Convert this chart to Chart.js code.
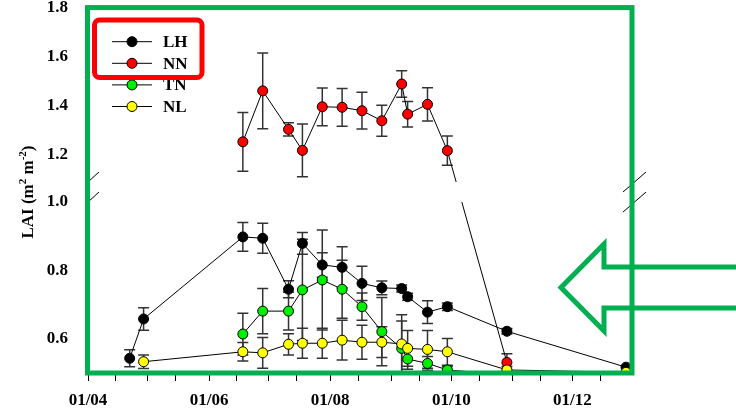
<!DOCTYPE html>
<html>
<head>
<meta charset="utf-8">
<script src="https://cdn.jsdelivr.net/npm/chart.js@4.4.0/dist/chart.umd.min.js"></script>
<style>
  html, body { margin: 0; padding: 0; background: #fff; }
</style>
</head>
<body>
<canvas id="laiChart" width="736" height="410"></canvas>
<script>
// Fechas de muestreo (DD/MM)
const fechas = ['22/04', '29/04', '18/06', '28/06', '11/07', '18/07', '28/07', '07/08',
                '17/08', '27/08', '06/09', '09/09', '19/09', '29/09', '29/10', '28/12'];

// LAI medio y error de cada tratamiento (null = sin dato)
const lh    = [0.543, 0.658, 0.898, 0.894, 0.745, 0.879, 0.816, 0.809, 0.762, 0.749, 0.747, 0.723, 0.678, 0.694, 0.622, 0.517];
const lhErr = [0.025, 0.033, 0.042, 0.044, 0.025, 0.032, 0.036, 0.060, 0.050, 0.020, 0.010, 0.010, 0.033, 0.011, 0.008, null];
const nn    = [null, null, 1.254, 1.462, 1.305, 1.219, 1.397, 1.395, 1.381, 1.340, 1.490, 1.367, 1.407, 1.218, 0.531, null];
const nnErr = [null, null, 0.120, 0.155, 0.027, 0.108, 0.077, 0.077, 0.075, 0.063, 0.054, 0.052, 0.068, 0.060, 0.025, null];
const tn    = [null, null, 0.614, 0.681, 0.681, 0.743, 0.772, 0.745, 0.694, 0.621, 0.572, 0.541, 0.528, 0.509, 0.495, 0.490];
const tnErr = [null, null, 0.061, 0.066, 0.055, 0.148, 0.146, 0.085, 0.040, 0.100, 0.080, 0.030, 0.020, 0.010, null, null];
const nl    = [null, 0.533, 0.562, 0.559, 0.584, 0.587, 0.587, 0.596, 0.590, 0.590, 0.585, 0.572, 0.569, 0.562, 0.509, 0.502];
const nlErr = [null, 0.020, 0.027, 0.045, 0.031, 0.044, 0.044, 0.058, 0.050, 0.045, 0.085, 0.052, 0.055, 0.039, 0.010, null];

const etiquetasY = [0.6, 0.8, 1.0, 1.2, 1.4, 1.6, 1.8];
const etiquetasX = ['01/04', '01/06', '01/08', '01/10', '01/12'];
const menoresX = ['15/04', '01/05', '15/05', '15/06', '01/07', '15/07', '15/08', '01/09',
                  '15/09', '15/10', '01/11', '15/11', '15/12'];

// Eje Y roto: tramo bajo 0.5-1.0, tramo alto 1.09-1.8 (comprimido)
const CORTE_BAJO = 1.0, CORTE_ALTO = 1.09, HUECO = 0.0586, FACTOR_ALTO = 0.7164;
function ejeY(v) {
  return v <= 1.05 ? v : CORTE_BAJO + HUECO + (v - CORTE_ALTO) * FACTOR_ALTO;
}

// Días desde el 1 de abril
function dias(f) {
  const [d, m] = f.split('/').map(Number);
  return (Date.UTC(2001, m - 1, d) - Date.UTC(2001, 3, 1)) / 86400000;
}

function serie(valores, errores) {
  const puntos = [];
  valores.forEach((v, i) => {
    if (v === null) return;
    puntos.push({ x: dias(fechas[i]), y: ejeY(v), v: v, e: errores[i] });
  });
  return puntos;
}

const fuente = 'Liberation Serif';

// Barras de error (detrás de los marcadores)
const barrasError = {
  id: 'barrasError',
  beforeDatasetsDraw(chart) {
    const ctx = chart.ctx, y = chart.scales.y, a = chart.chartArea;
    ctx.save();
    ctx.beginPath();
    ctx.rect(a.left, a.top, a.right - a.left, a.bottom - a.top);
    ctx.clip();
    ctx.strokeStyle = '#333';
    ctx.lineWidth = 1.5;
    chart.data.datasets.forEach((ds, k) => {
      const meta = chart.getDatasetMeta(k);
      ds.data.forEach((p, i) => {
        if (!p.e) return;
        const px = meta.data[i].x;
        const arriba = y.getPixelForValue(ejeY(p.v + p.e));
        const abajo = y.getPixelForValue(ejeY(p.v - p.e));
        ctx.beginPath();
        ctx.moveTo(px, arriba); ctx.lineTo(px, abajo);
        ctx.moveTo(px - 5.5, arriba); ctx.lineTo(px + 5.5, arriba);
        ctx.moveTo(px - 5.5, abajo); ctx.lineTo(px + 5.5, abajo);
        ctx.stroke();
      });
    });
    ctx.restore();
  }
};

// Hueco del eje roto y marcas //
const corteEje = {
  id: 'corteEje',
  afterDatasetsDraw(chart) {
    const ctx = chart.ctx, y = chart.scales.y, a = chart.chartArea;
    const yBajo = y.getPixelForValue(ejeY(CORTE_BAJO));
    const yAlto = y.getPixelForValue(ejeY(CORTE_ALTO));
    ctx.save();
    ctx.fillStyle = '#fff';
    ctx.fillRect(a.left + 3, yAlto, a.right - a.left - 6, yBajo - yAlto);
    ctx.strokeStyle = '#000';
    ctx.lineWidth = 1;
    [yAlto, yBajo].forEach(yy => {
      ctx.beginPath();
      ctx.moveTo(a.left, yy); ctx.lineTo(a.left + 11, yy - 10);
      ctx.moveTo(a.right - 7, yy + 10); ctx.lineTo(a.right + 16, yy - 10);
      ctx.stroke();
    });
    ctx.restore();
  }
};

// Leyenda, título del eje Y y marcas de anotación
const anotaciones = {
  id: 'anotaciones',
  afterDraw(chart) {
    const ctx = chart.ctx, a = chart.chartArea;
    ctx.save();

    // leyenda
    chart.data.datasets.forEach((ds, k) => {
      const yy = 41.7 + k * 21.6;
      ctx.strokeStyle = '#000';
      ctx.lineWidth = 1;
      ctx.beginPath();
      ctx.moveTo(112, yy); ctx.lineTo(152, yy);
      ctx.stroke();
      ctx.beginPath();
      ctx.arc(132, yy, 5, 0, Math.PI * 2);
      ctx.fillStyle = ds.pointBackgroundColor;
      ctx.fill();
      ctx.stroke();
      ctx.fillStyle = '#000';
      ctx.font = 'bold 17px "' + fuente + '"';
      ctx.textBaseline = 'middle';
      ctx.textAlign = 'left';
      ctx.fillText(ds.label, 163, yy + 1);
    });

    // título del eje Y con superíndices
    const partes = [['LAI (m', false], ['2', true], [' m', false], ['-2', true], [')', false]];
    const medir = p => {
      ctx.font = 'bold ' + (p[1] ? 11 : 17) + 'px "' + fuente + '"';
      return ctx.measureText(p[0]).width;
    };
    const total = partes.reduce((s, p) => s + medir(p), 0);
    ctx.translate(29, 192);
    ctx.rotate(-Math.PI / 2);
    ctx.textBaseline = 'middle';
    ctx.fillStyle = '#000';
    let xx = -total / 2;
    partes.forEach(p => {
      const w = medir(p);
      ctx.fillText(p[0], xx, p[1] ? -6 : 0);
      xx += w;
    });
    ctx.setTransform(1, 0, 0, 1, 0, 0);

    // rectángulo verde alrededor del área
    ctx.strokeStyle = '#00B050';
    ctx.lineWidth = 5;
    ctx.lineJoin = 'miter';
    ctx.strokeRect(a.left - 0.5, a.top - 0.5, a.right - a.left + 2.5, a.bottom - a.top + 0.5);

    // recuadro rojo en la leyenda
    ctx.strokeStyle = '#FF0000';
    ctx.beginPath();
    const rx = 94.5, ry = 20, rw = 107.5, rh = 57.5, r = 5;
    ctx.moveTo(rx + r, ry);
    ctx.arcTo(rx + rw, ry, rx + rw, ry + rh, r);
    ctx.arcTo(rx + rw, ry + rh, rx, ry + rh, r);
    ctx.arcTo(rx, ry + rh, rx, ry, r);
    ctx.arcTo(rx, ry, rx + rw, ry, r);
    ctx.closePath();
    ctx.stroke();

    // flecha verde
    ctx.strokeStyle = '#00B050';
    ctx.beginPath();
    ctx.moveTo(745, 267); ctx.lineTo(604, 267); ctx.lineTo(604, 244);
    ctx.lineTo(561, 287.5);
    ctx.lineTo(604, 331); ctx.lineTo(604, 308); ctx.lineTo(745, 308);
    ctx.stroke();

    ctx.restore();
  }
};

const colores = ['#000000', '#FF0000', '#00EE00', '#FFFF00'];
const nombres = ['LH', 'NN', 'TN', 'NL'];
const series = [serie(lh, lhErr), serie(nn, nnErr), serie(tn, tnErr), serie(nl, nlErr)];

var ctx = document.getElementById('laiChart').getContext('2d');
var chart = new Chart(ctx, {
  type: 'line',
  data: {
    datasets: series.map((datos, k) => ({
      label: nombres[k],
      data: datos,
      order: 4 - k,
      borderColor: '#000',
      borderWidth: 1,
      pointRadius: 5,
      pointBackgroundColor: colores[k],
      pointBorderColor: '#000',
      pointBorderWidth: 1,
      tension: 0,
      fill: false,
    })),
  },
  options: {
    responsive: false,
    animation: false,
    layout: { padding: { top: 0, right: 106, left: 0, bottom: 0 } },
    plugins: { legend: { display: false }, tooltip: { enabled: false } },
    scales: {
      x: {
        type: 'linear',
        min: 0,
        max: 273,
        border: { display: false },
        grid: { drawOnChartArea: false, drawTicks: true, tickLength: 8, tickColor: '#000' },
        afterBuildTicks: scale => {
          scale.ticks = etiquetasX.concat(menoresX).map(f => ({ value: dias(f) }));
        },
        afterFit: scale => { scale.height = 37; },
        ticks: {
          autoSkip: false,
          maxRotation: 0,
          padding: 9,
          color: '#000',
          font: { family: fuente, size: 17, weight: 'bold' },
          callback: (valor) => {
            const f = etiquetasX.find(e => dias(e) === valor);
            return f ? f : '';
          },
        },
      },
      y: {
        type: 'linear',
        min: 0.5,
        max: ejeY(1.8),
        border: { display: false },
        grid: { drawOnChartArea: false, drawTicks: true, tickLength: 20, tickColor: 'rgba(0,0,0,0)' },
        afterBuildTicks: scale => {
          scale.ticks = etiquetasY.map(v => ({ value: ejeY(v) }));
        },
        afterFit: scale => { scale.width = 88; },
        ticks: {
          padding: 0,
          color: '#000',
          font: { family: fuente, size: 17, weight: 'bold', lineHeight: 0.95 },
          callback: (valor, i) => etiquetasY[i].toFixed(1),
        },
      },
    },
  },
  plugins: [barrasError, corteEje, anotaciones],
});
</script>
</body>
</html>
